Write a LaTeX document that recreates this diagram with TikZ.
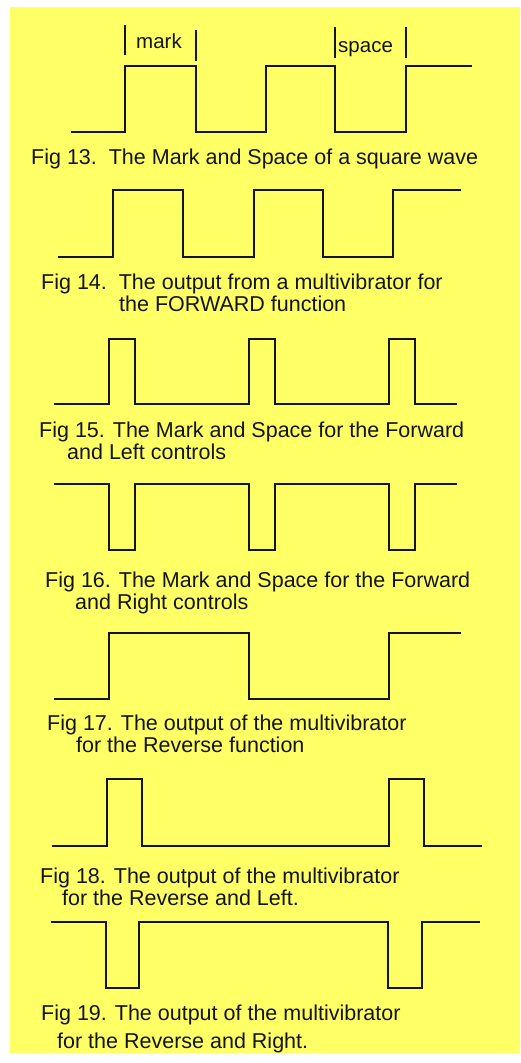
\documentclass[tikz,border=0pt]{standalone}
\usepackage{fontspec}
\setmainfont{Liberation Sans}
\definecolor{bgyellow}{HTML}{FFFF66}
\definecolor{ink}{HTML}{141414}
\begin{document}
\begin{tikzpicture}[x=1pt,y=-1pt,
  wave/.style={draw=ink,line width=1.9pt,line join=miter},
  tickline/.style={draw=ink,line width=1.9pt},
  captxt/.style={anchor=base west,inner sep=0pt,text=ink,font=\fontsize{21.5}{22}\selectfont},
  lbl/.style={anchor=base west,inner sep=0pt,text=ink,font=\fontsize{20.5}{22}\selectfont}]
\useasboundingbox (0,0) rectangle (520,1063);
\fill[white] (0,0) rectangle (520,1063);
\fill[bgyellow] (10,7) rectangle (520,1053);
% Fig 13
\draw[wave] (71,132) -- (125,132) -- (125,66) -- (196,66) -- (196,132) -- (266,132) -- (266,66) -- (335,66) -- (335,132) -- (406,132) -- (406,66) -- (472,66);
\draw[tickline] (125,25) -- (125,55);
\draw[tickline] (196,30) -- (196,61);
\draw[tickline] (335,27) -- (335,58);
\draw[tickline] (406,27) -- (406,58);
\node[lbl] (mark) at (136,48) {mark};
\node[lbl] (space) at (338,52) {space};
\node[captxt] (c13) at (31,164) {Fig 13.\ \ The Mark and Space of a square wave};
% Fig 14
\draw[wave] (58,257) -- (113,257) -- (113,190) -- (183,190) -- (183,257) -- (254,257) -- (254,190) -- (323,190) -- (323,257) -- (393,257) -- (393,190) -- (461,190);
\node[captxt] (c14a) at (41,289) {Fig 14.\ \ The output from a multivibrator for};
\node[captxt] (c14b) at (119,311) {the FORWARD function};
% Fig 15
\draw[wave] (54,404) -- (109,404) -- (109,339) -- (135,339) -- (135,404) -- (249,404) -- (249,339) -- (275,339) -- (275,404) -- (389,404) -- (389,339) -- (415,339) -- (415,404) -- (457,404);
\node[captxt] (c15a) at (39,437) {Fig 15. The Mark and Space for the Forward};
\node[captxt] (c15b) at (67,459) {and Left controls};
% Fig 16
\draw[wave] (54,484) -- (109,484) -- (109,550) -- (135,550) -- (135,484) -- (249,484) -- (249,550) -- (275,550) -- (275,484) -- (389,484) -- (389,550) -- (415,550) -- (415,484) -- (457,484);
\node[captxt] (c16a) at (45,587) {Fig 16. The Mark and Space for the Forward};
\node[captxt] (c16b) at (75,609) {and Right controls};
% Fig 17
\draw[wave] (54,699) -- (109,699) -- (109,633) -- (249,633) -- (249,699) -- (389,699) -- (389,633) -- (461,633);
\node[captxt] (c17a) at (47,730) {Fig 17. The output of the multivibrator};
\node[captxt] (c17b) at (76,752) {for the Reverse function};
% Fig 18
\draw[wave] (52,846) -- (107,846) -- (107,779) -- (142,779) -- (142,846) -- (389,846) -- (389,779) -- (424,779) -- (424,846) -- (482,846);
\node[captxt] (c18a) at (40,883) {Fig 18. The output of the multivibrator};
\node[captxt] (c18b) at (62,905) {for the Reverse and Left.};
% Fig 19
\draw[wave] (51,922) -- (106,922) -- (106,988) -- (139,988) -- (139,922) -- (388,922) -- (388,988) -- (422,988) -- (422,922) -- (480,922);
\node[captxt] (c19a) at (41,1020) {Fig 19. The output of the multivibrator};
\node[captxt] (c19b) at (57,1048) {for the Reverse and Right.};
\end{tikzpicture}
\end{document}
